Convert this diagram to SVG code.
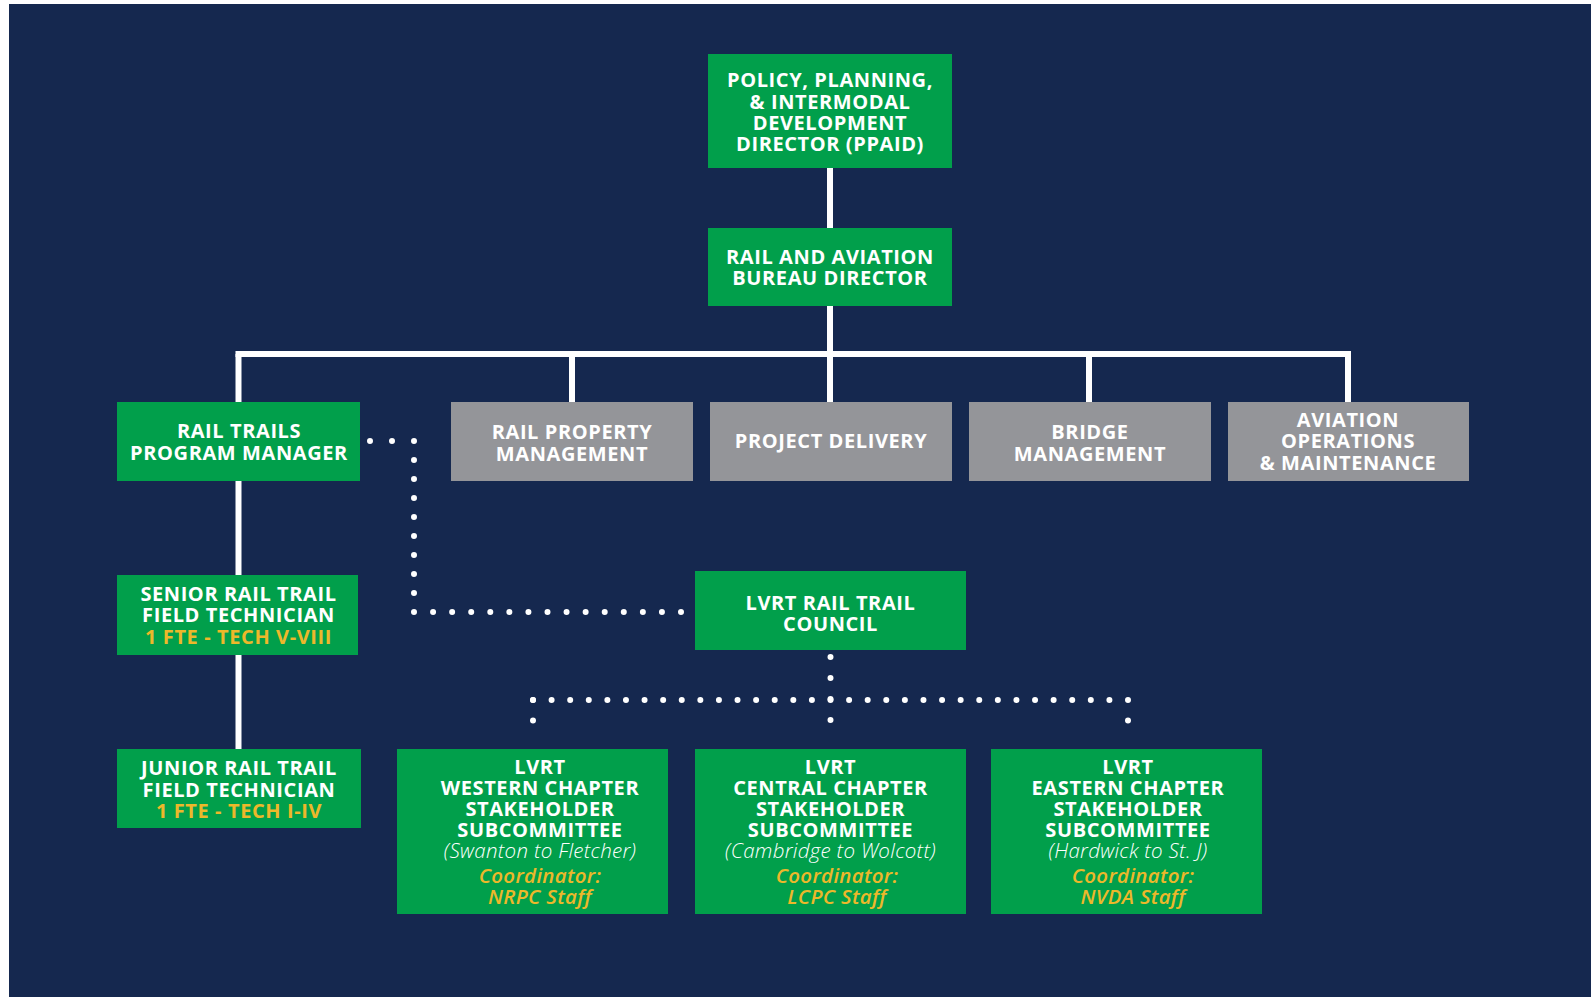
<svg xmlns="http://www.w3.org/2000/svg" width="1591" height="997" viewBox="0 0 1591 997">
<defs>
<style>
.g{fill:#019F4B}
.gr{fill:#949599}
.t{font-family:"Open Sans","Liberation Sans",sans-serif;font-weight:700;font-size:20px;letter-spacing:0.6px;fill:#fff;text-anchor:middle}
.y{fill:#EDB82A}
.i{font-weight:300;font-style:italic;font-size:20.5px;letter-spacing:0.3px}
.yi{fill:#EDB82A;font-style:italic;font-weight:600;font-size:20.5px;letter-spacing:0.3px}
.s{stroke:#fff;stroke-width:6;fill:none}
.d{stroke:#fff;stroke-width:6;stroke-linecap:round;stroke-dasharray:0 1;fill:none}
</style>
</defs>
<rect x="0" y="0" width="1591" height="997" fill="#fff"/>
<rect x="9" y="4" width="1582" height="993" fill="#15284F"/>
<g id="connectors">
<line class="s" x1="830" y1="168" x2="830" y2="228"/>
<line class="s" x1="830" y1="306" x2="830" y2="354"/>
<line class="s" x1="235.5" y1="354" x2="1351" y2="354"/>
<line class="s" x1="238.5" y1="354" x2="238.5" y2="402"/>
<line class="s" x1="572" y1="354" x2="572" y2="402"/>
<line class="s" x1="830" y1="354" x2="830" y2="402"/>
<line class="s" x1="1089" y1="354" x2="1089" y2="402"/>
<line class="s" x1="1348" y1="354" x2="1348" y2="402"/>
<line class="s" x1="238.5" y1="481" x2="238.5" y2="575"/>
<line class="s" x1="238.5" y1="655" x2="238.5" y2="749"/>
<line class="d" pathLength="2" x1="370" y1="441" x2="414" y2="441"/>
<line class="d" pathLength="9" x1="414" y1="441" x2="414" y2="612"/>
<line class="d" pathLength="14" x1="414" y1="612" x2="681" y2="612"/>
<line class="d" pathLength="4" x1="830.5" y1="657" x2="830.5" y2="741"/>
<line class="d" pathLength="32" x1="533" y1="700" x2="1128" y2="700"/>
<line class="d" pathLength="2" x1="533" y1="700" x2="533" y2="741"/>
<line class="d" pathLength="2" x1="1128" y1="700" x2="1128" y2="741"/>
</g>
<g id="ppaid">
<rect class="g" x="708" y="54" width="244" height="114"/>
<text class="t" x="830" y="87">POLICY, PLANNING,</text>
<text class="t" x="830" y="108.5">&amp; INTERMODAL</text>
<text class="t" x="830" y="130">DEVELOPMENT</text>
<text class="t" x="830" y="151">DIRECTOR (PPAID)</text>
</g>
<g id="rail-aviation">
<rect class="g" x="708" y="228" width="244" height="78"/>
<text class="t" x="830" y="264">RAIL AND AVIATION</text>
<text class="t" x="830" y="285">BUREAU DIRECTOR</text>
</g>
<g id="rail-trails">
<rect class="g" x="117" y="402" width="243" height="79"/>
<text class="t" x="239" y="438">RAIL TRAILS</text>
<text class="t" x="239" y="459.5">PROGRAM MANAGER</text>
</g>
<g id="rail-property">
<rect class="gr" x="451" y="402" width="242" height="79"/>
<text class="t" x="572" y="439">RAIL PROPERTY</text>
<text class="t" x="572" y="460.5">MANAGEMENT</text>
</g>
<g id="project-delivery">
<rect class="gr" x="710" y="402" width="242" height="79"/>
<text class="t" x="831" y="448">PROJECT DELIVERY</text>
</g>
<g id="bridge">
<rect class="gr" x="969" y="402" width="242" height="79"/>
<text class="t" x="1090" y="439">BRIDGE</text>
<text class="t" x="1090" y="460.5">MANAGEMENT</text>
</g>
<g id="aviation">
<rect class="gr" x="1228" y="402" width="241" height="79"/>
<text class="t" x="1348" y="427">AVIATION</text>
<text class="t" x="1348" y="448">OPERATIONS</text>
<text class="t" x="1348" y="469.5">&amp; MAINTENANCE</text>
</g>
<g id="senior">
<rect class="g" x="117" y="575" width="241" height="80"/>
<text class="t" x="238.5" y="601">SENIOR RAIL TRAIL</text>
<text class="t" x="238.5" y="622">FIELD TECHNICIAN</text>
<text class="t y" x="238.5" y="644">1 FTE - TECH V-VIII</text>
</g>
<g id="junior">
<rect class="g" x="117" y="749" width="244" height="79"/>
<text class="t" x="239" y="775">JUNIOR RAIL TRAIL</text>
<text class="t" x="239" y="796.5">FIELD TECHNICIAN</text>
<text class="t y" x="239" y="818">1 FTE - TECH I-IV</text>
</g>
<g id="council">
<rect class="g" x="695" y="571" width="271" height="79"/>
<text class="t" x="830.5" y="610">LVRT RAIL TRAIL</text>
<text class="t" x="830.5" y="631">COUNCIL</text>
</g>
<g id="western">
<rect class="g" x="397" y="749" width="271" height="165"/>
<text class="t" x="540" y="774">LVRT</text>
<text class="t" x="540" y="795">WESTERN CHAPTER</text>
<text class="t" x="540" y="816">STAKEHOLDER</text>
<text class="t" x="540" y="837">SUBCOMMITTEE</text>
<text class="t i" x="540" y="858">(Swanton to Fletcher)</text>
<text class="t yi" x="540" y="883">Coordinator:</text>
<text class="t yi" x="540" y="904">NRPC Staff</text>
</g>
<g id="central">
<rect class="g" x="695" y="749" width="271" height="165"/>
<text class="t" x="830.5" y="774">LVRT</text>
<text class="t" x="830.5" y="795">CENTRAL CHAPTER</text>
<text class="t" x="830.5" y="816">STAKEHOLDER</text>
<text class="t" x="830.5" y="837">SUBCOMMITTEE</text>
<text class="t i" x="830.5" y="858">(Cambridge to Wolcott)</text>
<text class="t yi" x="837" y="883">Coordinator:</text>
<text class="t yi" x="837" y="904">LCPC Staff</text>
</g>
<g id="eastern">
<rect class="g" x="991" y="749" width="271" height="165"/>
<text class="t" x="1128" y="774">LVRT</text>
<text class="t" x="1128" y="795">EASTERN CHAPTER</text>
<text class="t" x="1128" y="816">STAKEHOLDER</text>
<text class="t" x="1128" y="837">SUBCOMMITTEE</text>
<text class="t i" x="1128" y="858">(Hardwick to St. J)</text>
<text class="t yi" x="1133" y="883">Coordinator:</text>
<text class="t yi" x="1133" y="904">NVDA Staff</text>
</g>
</svg>
